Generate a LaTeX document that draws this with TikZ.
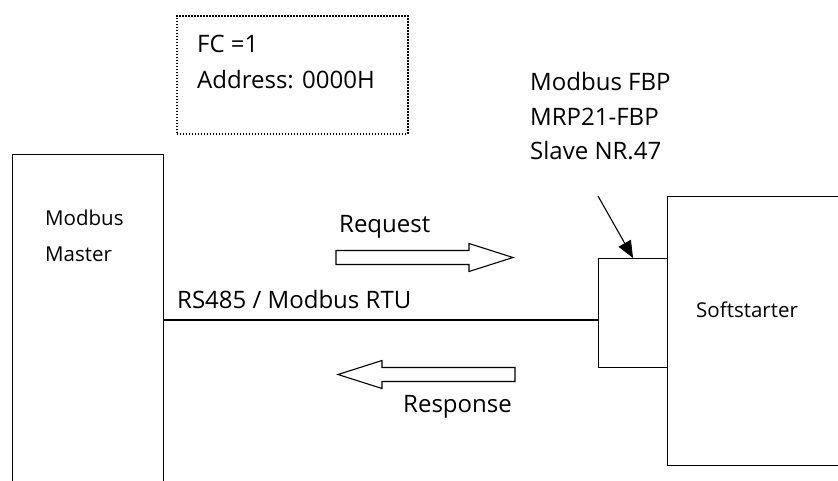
\documentclass[tikz,border=0pt]{standalone}
\usepackage{fontspec}
\setmainfont{Open Sans}
\usetikzlibrary{arrows.meta}
\tikzstyle{canvas} = [x = 1pt, y = -1pt]
\tikzstyle{boxStyle} = [draw=black, line width=1.1pt, inner sep=0]
\tikzstyle{frameStyle} = [draw=black, line width=1.5pt, dash pattern=on 1.5pt off 1.5pt, inner sep=0]
\tikzstyle{bigLabel} = [font=\bigText, anchor=base west, inner sep=0]
\tikzstyle{smallLabel} = [font=\smallText, anchor=base west, inner sep=0]
\tikzstyle{busLine} = [color=black, line width=1.1pt]
\tikzstyle{blockArrowStyle} = [draw=black, fill=white, line width=1.1pt, line join=miter]
\tikzstyle{pointerStyle} = [color=black, line width=1.1pt, -{Triangle[length=17pt, width=14pt]}]
\newcommand{\bigText}{\fontsize{24}{30}\selectfont}
\newcommand{\smallText}{\fontsize{20.5}{26}\selectfont}
\newcommand{\blockArrow}[4]{\draw [blockArrowStyle] (#1, #3 - 7) -- (#4, #3 - 7) -- (#4, #3 - 14) -- (#2, #3) -- (#4, #3 + 14) -- (#4, #3 + 7) -- (#1, #3 + 7) -- cycle;}

\begin{document}
\begin{tikzpicture}[canvas]
  \useasboundingbox (0,0) rectangle (838,480);
  \clip (0,0) rectangle (838,480);

  % boxes
  \node [frameStyle, minimum width=231pt, minimum height=118pt, anchor=north west] (frameBox) at (176,15) {};
  \node [boxStyle, minimum width=151pt, minimum height=340pt, anchor=north west] (master) at (12,154) {};
  \node [boxStyle, minimum width=200pt, minimum height=269pt, anchor=north west] (softstarter) at (667,196) {};
  \node [boxStyle, fill=white, minimum width=69pt, minimum height=109pt, anchor=north west] (module) at (598,258) {};

  % texts
  \node [bigLabel] (fcLabel) at (197,52) {FC =1};
  \node [bigLabel] (addressLabel) at (197,88) {Address: 0000H};
  \node [bigLabel] (fbpLabel) at (530,90) {Modbus FBP};
  \node [bigLabel] (mrpLabel) at (530,125) {MRP21-FBP};
  \node [bigLabel] (slaveLabel) at (530,159) {Slave NR.47};
  \node [smallLabel] (masterLabelA) at (45,225) {Modbus};
  \node [smallLabel] (masterLabelB) at (45,261) {Master};
  \node [bigLabel] (requestLabel) at (339,232) {Request};
  \node [bigLabel] (busLabel) at (177,308) {RS485 / Modbus RTU};
  \node [bigLabel] (responseLabel) at (403,412) {Response};
  \node [smallLabel] (softLabel) at (696,317) {Softstarter};

  % bus and arrows
  \coordinate (busLevel) at (0,320);
  \draw [busLine] (master.east |- busLevel) -- (module.west |- busLevel);
  \coordinate (pointerStart) at (598,196);
  \draw [pointerStyle] (pointerStart) -- (module.north);
  \blockArrow{336}{513}{257.5}{469}
  \blockArrow{515}{338}{374.5}{382}
\end{tikzpicture}
\end{document}
